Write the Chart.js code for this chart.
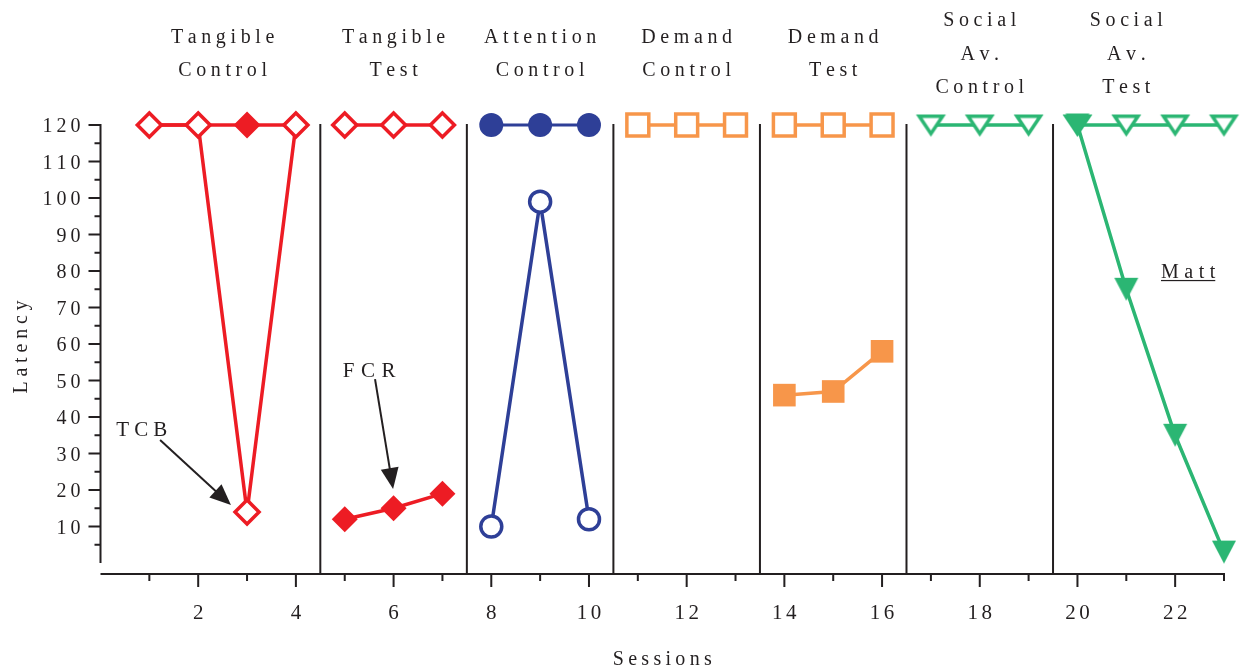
<!DOCTYPE html>
<html>
<head>
<meta charset="utf-8">
<script src="https://cdn.jsdelivr.net/npm/chart.js@4/dist/chart.umd.min.js"></script>
<style>
  html, body { margin: 0; padding: 0; background: #ffffff; }
  #wrap { width: 1244px; height: 671px; position: relative; }
</style>
</head>
<body>
<div id="wrap"><canvas id="chart"></canvas></div>
<script>
// ---- Session data per phase (latency in seconds; 120 = no response) ----
const tangibleControlSessions = [1, 2, 3, 4];
const tangibleControlTCB = [120, 120, 14, 120];
const tangibleControlFCR = [120, 120, 120, 120];

const tangibleTestSessions = [5, 6, 7];
const tangibleTestTCB = [120, 120, 120];
const tangibleTestFCR = [12, 15, 19];

const attentionControlSessions = [8, 9, 10];
const attentionControlTCB = [10, 99, 12];
const attentionControlFCR = [120, 120, 120];

const demandControlSessions = [11, 12, 13];
const demandControlTCB = [120, 120, 120];

const demandTestSessions = [14, 15, 16];
const demandTestTCB = [120, 120, 120];
const demandTestFCR = [46, 47, 58];

const socialControlSessions = [17, 18, 19];
const socialControlTCB = [120, 120, 120];

const socialTestSessions = [20, 21, 22, 23];
const socialTestTCB = [120, 120, 120, 120];
const socialTestFCR = [120, 75, 35, 3];

// ---- Phase headings and condition-change lines ----
const phaseNames = [
  ["Tangible", "Control"],
  ["Tangible", "Test"],
  ["Attention", "Control"],
  ["Demand", "Control"],
  ["Demand", "Test"],
  ["Social", "Av.", "Control"],
  ["Social", "Av.", "Test"]
];
const phaseCenters = [2.5, 6, 9, 12, 15, 18, 21];
const phaseChanges = [4.5, 7.5, 10.5, 13.5, 16.5, 19.5];

// ---- Axis ticks ----
const xMinorTicks = [1, 3, 5, 7, 9, 11, 13, 15, 17, 19, 21, 23];
const xMajorTicks = [2, 4, 6, 8, 10, 12, 14, 16, 18, 20, 22];
const xTickLabels = ["2", "4", "6", "8", "10", "12", "14", "16", "18", "20", "22"];
const yMinorTicks = [5, 15, 25, 35, 45, 55, 65, 75, 85, 95, 105, 115];
const yMajorTicks = [10, 20, 30, 40, 50, 60, 70, 80, 90, 100, 110, 120];
const yTickLabels = ["10", "20", "30", "40", "50", "60", "70", "80", "90", "100", "110", "120"];

// ---- Annotations (session, latency) ----
const tcbLabel = { text: "TCB", x: 0.32, y: 34.8 };
const tcbArrow = { from: [1.22, 33.7], to: [2.67, 15.9] };
const fcrLabel = { text: "FCR", x: 4.96, y: 51.0 };
const fcrArrow = { from: [5.62, 50.4], to: [5.99, 20.3] };
const subjectLabel = { text: "Matt", x: 21.71, y: 78.1 };

const RED = '#ed1c24';
const BLUE = '#2e3f97';
const ORANGE = '#f7964a';
const GREEN = '#2bb673';
const INK = '#231f20';
const SERIF = '"Liberation Serif", "DejaVu Serif", serif';

// Downward triangles drawn bbox-centred on an offscreen canvas
function triangleImage(w, h, color, filled) {
  const pad = 3;
  const c = document.createElement('canvas');
  c.width = w + pad * 2;
  c.height = h + pad * 2;
  const g = c.getContext('2d');
  g.beginPath();
  if (filled) {
    g.moveTo(pad, pad);
    g.lineTo(pad + w, pad);
    g.lineTo(pad + w / 2, pad + h);
    g.closePath();
    g.fillStyle = color;
    g.fill();
  } else {
    const s = 1.8;
    g.moveTo(pad + s, pad + s);
    g.lineTo(pad + w - s, pad + s);
    g.lineTo(pad + w / 2, pad + h - s);
    g.closePath();
    g.fillStyle = '#ffffff';
    g.fill();
    g.lineWidth = 3.5;
    g.lineJoin = 'miter';
    g.strokeStyle = color;
    g.stroke();
  }
  return c;
}
const openTriangle = triangleImage(27, 21, GREEN, false);
const filledTriangle = triangleImage(24, 23, GREEN, true);

function points(sessions, values) {
  return sessions.map((s, i) => ({ x: s, y: values[i] }));
}

function openSeries(sessions, values, color, style, radius, order) {
  return {
    data: points(sessions, values),
    borderColor: color,
    borderWidth: 3.5,
    pointStyle: style,
    pointRadius: radius,
    pointBorderWidth: 3.5,
    pointBackgroundColor: '#ffffff',
    pointBorderColor: color,
    tension: 0,
    clip: false,
    order: order
  };
}
function filledSeries(sessions, values, color, style, radius, order) {
  return {
    data: points(sessions, values),
    borderColor: color,
    borderWidth: 3.5,
    pointStyle: style,
    pointRadius: radius,
    pointBorderWidth: 0,
    pointBackgroundColor: color,
    pointBorderColor: color,
    tension: 0,
    clip: false,
    order: order
  };
}

const datasets = [
  filledSeries(tangibleControlSessions, tangibleControlFCR, RED, 'rectRot', 13.5, 3),
  openSeries(tangibleControlSessions, tangibleControlTCB, RED, 'rectRot', 12, 2),
  openSeries(tangibleTestSessions, tangibleTestTCB, RED, 'rectRot', 12, 2),
  filledSeries(tangibleTestSessions, tangibleTestFCR, RED, 'rectRot', 13, 3),
  filledSeries(attentionControlSessions, attentionControlFCR, BLUE, 'circle', 12, 3),
  openSeries(attentionControlSessions, attentionControlTCB, BLUE, 'circle', 10.5, 2),
  openSeries(demandControlSessions, demandControlTCB, ORANGE, 'rect', 15.5, 2),
  openSeries(demandTestSessions, demandTestTCB, ORANGE, 'rect', 15.5, 2),
  filledSeries(demandTestSessions, demandTestFCR, ORANGE, 'rect', 16, 3),
  openSeries(socialControlSessions, socialControlTCB, GREEN, openTriangle, 10, 2),
  openSeries(socialTestSessions, socialTestTCB, GREEN, openTriangle, 10, 2),
  filledSeries(socialTestSessions, socialTestFCR, GREEN, filledTriangle, 10, 1)
];
// the attention-phase connecting line at the ceiling is slightly lighter
datasets[4].borderWidth = 3;

// Draws text with extra spacing between letters
function spacedText(ctx, text, x, y, sp, align) {
  const chars = Array.from(text);
  const widths = chars.map(ch => ctx.measureText(ch).width);
  const total = widths.reduce((a, b) => a + b, 0) + sp * (chars.length - 1);
  let sx = align === 'center' ? x - total / 2 : (align === 'right' ? x - total : x);
  const start = sx;
  ctx.textAlign = 'left';
  chars.forEach((ch, i) => { ctx.fillText(ch, sx, y); sx += widths[i] + sp; });
  return { start: start, width: total };
}

function drawArrow(ctx, x1, y1, x2, y2) {
  const ang = Math.atan2(y2 - y1, x2 - x1);
  const headLen = 21, headHalf = 9;
  const bx = x2 - Math.cos(ang) * headLen;
  const by = y2 - Math.sin(ang) * headLen;
  ctx.beginPath();
  ctx.moveTo(x1, y1);
  ctx.lineTo(bx + Math.cos(ang) * 2, by + Math.sin(ang) * 2);
  ctx.lineWidth = 2;
  ctx.strokeStyle = INK;
  ctx.stroke();
  ctx.beginPath();
  ctx.moveTo(x2, y2);
  ctx.lineTo(bx + Math.sin(ang) * headHalf, by - Math.cos(ang) * headHalf);
  ctx.lineTo(bx - Math.sin(ang) * headHalf, by + Math.cos(ang) * headHalf);
  ctx.closePath();
  ctx.fillStyle = INK;
  ctx.fill();
}

const frame = {
  id: 'frame',
  beforeDatasetsDraw(chart) {
    const ctx = chart.ctx;
    const xs = chart.scales.x, ys = chart.scales.y;
    const axisY = chart.chartArea.bottom;
    const axisX = xs.getPixelForValue(0);
    ctx.save();
    ctx.strokeStyle = INK;
    ctx.fillStyle = INK;
    ctx.lineWidth = 2;
    ctx.lineCap = 'butt';

    // y axis line and ticks
    ctx.beginPath();
    ctx.moveTo(axisX, ys.getPixelForValue(120) - 1);
    ctx.lineTo(axisX, ys.getPixelForValue(0));
    yMajorTicks.forEach(v => { const p = ys.getPixelForValue(v); ctx.moveTo(axisX - 12, p); ctx.lineTo(axisX, p); });
    yMinorTicks.forEach(v => { const p = ys.getPixelForValue(v); ctx.moveTo(axisX - 6, p); ctx.lineTo(axisX, p); });
    ctx.stroke();

    // x axis line and ticks
    ctx.beginPath();
    ctx.moveTo(axisX, axisY);
    ctx.lineTo(xs.getPixelForValue(23) + 1, axisY);
    xMajorTicks.forEach(v => { const p = xs.getPixelForValue(v); ctx.moveTo(p, axisY); ctx.lineTo(p, axisY + 13); });
    xMinorTicks.forEach(v => { const p = xs.getPixelForValue(v); ctx.moveTo(p, axisY); ctx.lineTo(p, axisY + 7); });
    ctx.stroke();

    // condition change lines
    ctx.beginPath();
    phaseChanges.forEach(v => {
      const p = xs.getPixelForValue(v);
      ctx.moveTo(p, ys.getPixelForValue(120) - 1);
      ctx.lineTo(p, axisY);
    });
    ctx.stroke();

    // tick labels
    ctx.font = '20px ' + SERIF;
    ctx.textBaseline = 'alphabetic';
    yMajorTicks.forEach((v, i) => {
      spacedText(ctx, yTickLabels[i], axisX - 20, ys.getPixelForValue(v) + 7, 4, 'right');
    });
    ctx.font = '21px ' + SERIF;
    xMajorTicks.forEach((v, i) => {
      spacedText(ctx, xTickLabels[i], xs.getPixelForValue(v), axisY + 45, 3.5, 'center');
    });

    // axis titles
    ctx.font = '20px ' + SERIF;
    spacedText(ctx, 'Sessions', (axisX + xs.getPixelForValue(23)) / 2, 665, 4.3, 'center');
    ctx.save();
    ctx.translate(27, 347);
    ctx.rotate(-Math.PI / 2);
    spacedText(ctx, 'Latency', 0, 0, 4.8, 'center');
    ctx.restore();

    // phase headings
    ctx.font = '20px ' + SERIF;
    phaseNames.forEach((lines, i) => {
      const cx = xs.getPixelForValue(phaseCenters[i]);
      const n = lines.length;
      lines.forEach((line, j) => {
        const by = 59.5 + (j - (n - 1) / 2) * 33.5;
        spacedText(ctx, line, cx, by, 4.6, 'center');
      });
    });
    ctx.restore();
  },
  afterDatasetsDraw(chart) {
    const ctx = chart.ctx;
    const xs = chart.scales.x, ys = chart.scales.y;
    const px = v => xs.getPixelForValue(v);
    const py = v => ys.getPixelForValue(v);
    ctx.save();
    ctx.fillStyle = INK;
    ctx.font = '21px ' + SERIF;
    ctx.textBaseline = 'alphabetic';
    spacedText(ctx, tcbLabel.text, px(tcbLabel.x), py(tcbLabel.y), 5.2, 'left');
    spacedText(ctx, fcrLabel.text, px(fcrLabel.x), py(fcrLabel.y), 6.5, 'left');
    drawArrow(ctx, px(tcbArrow.from[0]), py(tcbArrow.from[1]), px(tcbArrow.to[0]), py(tcbArrow.to[1]));
    drawArrow(ctx, px(fcrArrow.from[0]), py(fcrArrow.from[1]), px(fcrArrow.to[0]), py(fcrArrow.to[1]));
    ctx.font = '20px ' + SERIF;
    const m = spacedText(ctx, subjectLabel.text, px(subjectLabel.x), py(subjectLabel.y), 5.5, 'left');
    ctx.fillStyle = INK;
    ctx.fillRect(m.start, py(subjectLabel.y) + 2, m.width, 1.2);
    ctx.restore();
  }
};

new Chart(document.getElementById('chart'), {
  type: 'line',
  data: { datasets: datasets },
  options: {
    responsive: true,
    maintainAspectRatio: false,
    animation: false,
    events: [],
    layout: { padding: { left: 100.5, right: 20, top: 125, bottom: 97 } },
    scales: {
      x: { type: 'linear', min: 0, max: 23, display: false },
      y: { type: 'linear', min: -3, max: 120, display: false }
    },
    plugins: { legend: { display: false }, tooltip: { enabled: false } }
  },
  plugins: [frame]
});
</script>
</body>
</html>
